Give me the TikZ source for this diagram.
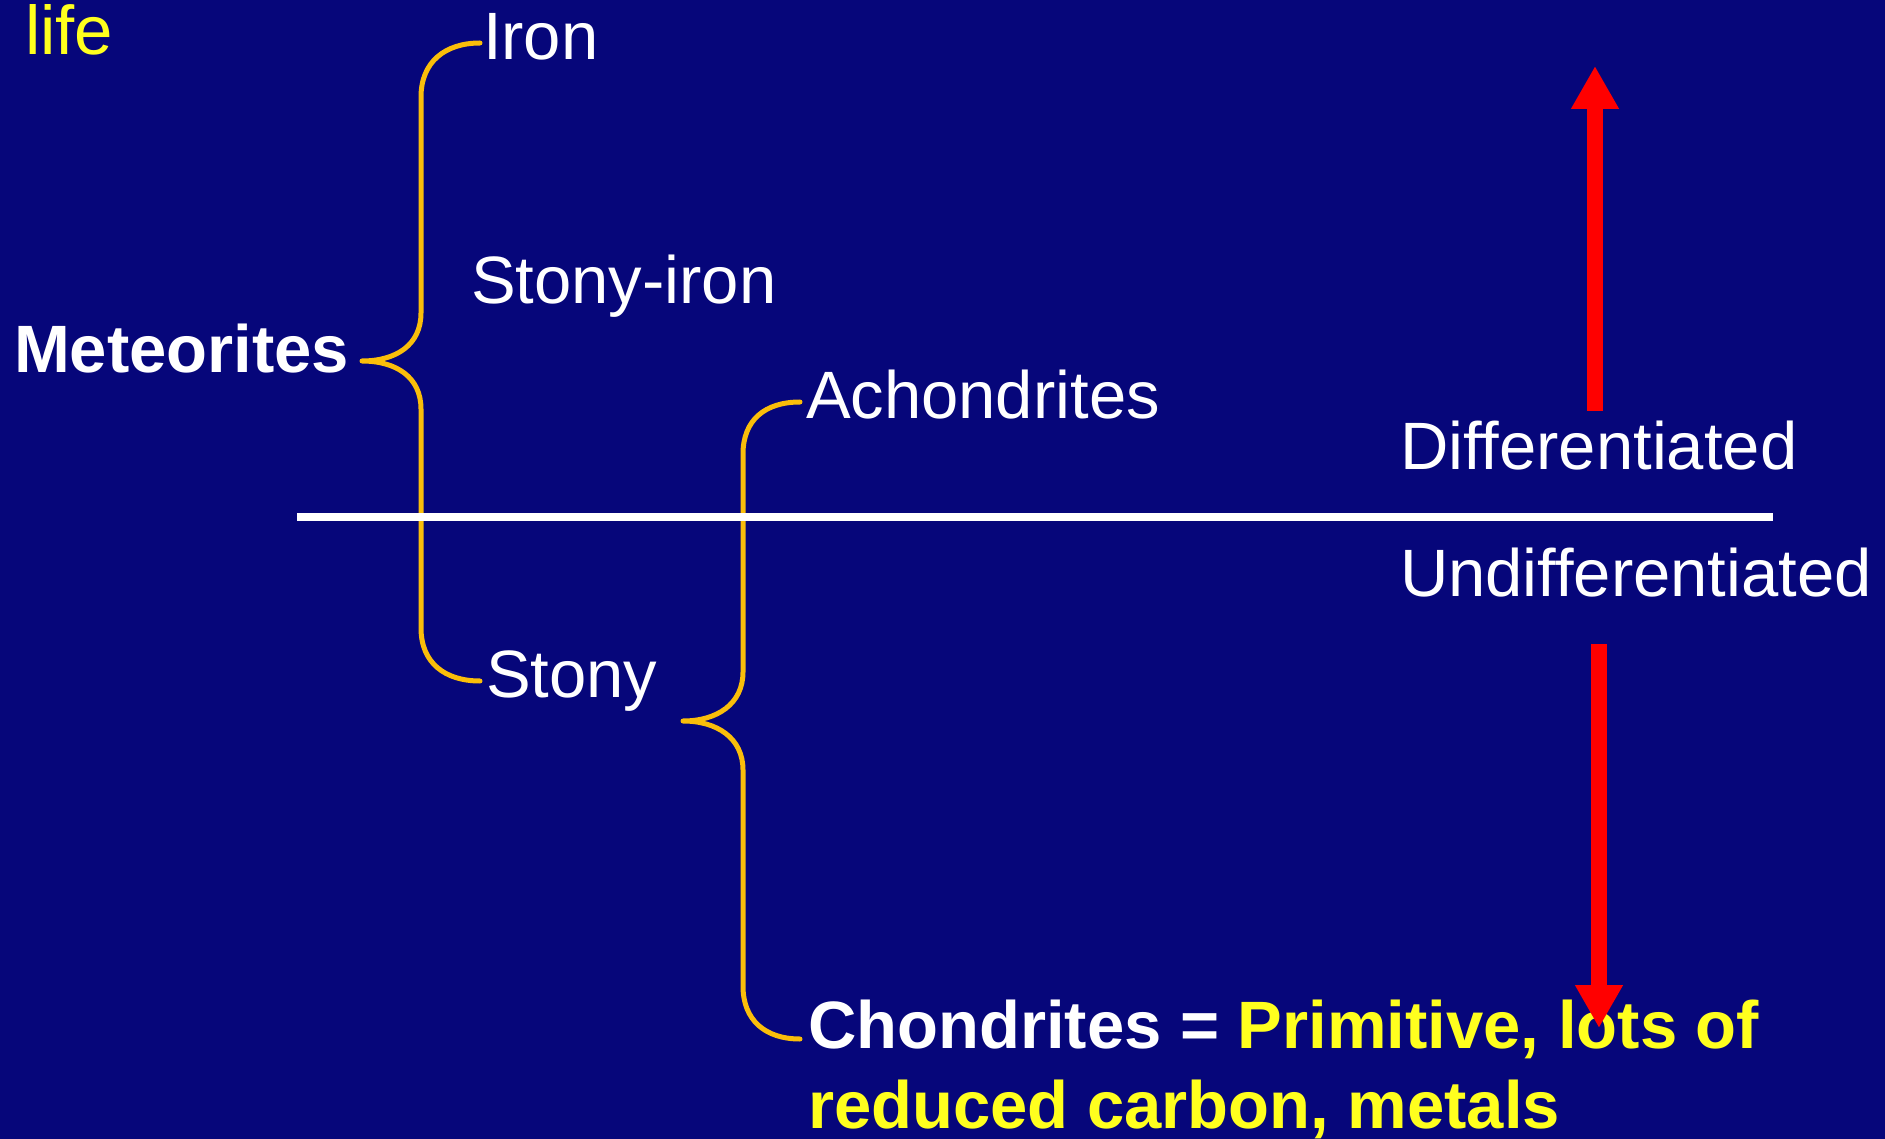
\documentclass[tikz,border=0pt]{standalone}
\usepackage{fontspec}
\setmainfont{Liberation Sans}
\usetikzlibrary{arrows.meta}
\definecolor{bgblue}{RGB}{6,6,122}
\definecolor{bracegold}{RGB}{250,190,10}
\definecolor{txtyellow}{RGB}{255,255,30}
\definecolor{arrowred}{RGB}{255,0,0}
\tikzset{
  lbl/.style={anchor=base west, inner sep=0pt, outer sep=0pt, text=white, font=\fontsize{67}{80}\selectfont},
  boldlbl/.style={lbl, font=\fontsize{67}{80}\selectfont\bfseries},
  bracepath/.style={draw=bracegold, line width=5pt, line cap=round, line join=round},
  divider/.style={draw=white, line width=8pt},
  bigarrow/.style={draw=arrowred, line width=16pt, -{Triangle[width=45pt,length=43pt]}}
}
\begin{document}
\begin{tikzpicture}[x=1pt,y=-1pt]
\fill[bgblue] (0,0) rectangle (1885,1139);
\useasboundingbox (0,0) rectangle (1885,1139);

% texts
\node[lbl, text=txtyellow, font=\fontsize{69}{80}\selectfont] (life) at (25,55) {life};
\node[lbl] (iron) at (483,60) {Iron};
\node[lbl] (stonyiron) at (471,304) {Stony-iron};
\node[boldlbl] (meteorites) at (14,373) {Meteorites};
\node[lbl] (achond) at (806,418) {Achondrites};
\node[lbl] (diff) at (1400,469) {Differentiated};
\node[lbl] (undiff) at (1400,596) {Undifferentiated};
\node[lbl] (stony) at (486,697) {Stony};
\node[boldlbl] (chond) at (808,1048) {Chondrites = \textcolor{txtyellow}{Primitive, lots of}};
\node[boldlbl, text=txtyellow] (chond2) at (808,1128) {reduced carbon, metals};

% brace coordinates
\coordinate (b1top) at (480,43);
\coordinate (b1tip) at (362,361);
\coordinate (b1bot) at (480,681);
\coordinate (b2top) at (800,402);
\coordinate (b2tip) at (683,721);
\coordinate (b2bot) at (800,1039);

% brace 1 (Meteorites)
\path[bracepath] (b1top) .. controls (445,43) and (421,62) .. (421,97)
  -- (421,313) .. controls (421,345) and (396,361) .. (b1tip)
  .. controls (396,361) and (421,377) .. (421,409)
  -- (421,628) .. controls (421,663) and (445,681) .. (b1bot);

% brace 2 (Stony)
\path[bracepath] (b2top) .. controls (765,402) and (743,420) .. (743,454)
  -- (743,672) .. controls (743,704) and (717,721) .. (b2tip)
  .. controls (717,721) and (743,738) .. (743,770)
  -- (743,986) .. controls (743,1020) and (765,1039) .. (b2bot);

% divider line
\coordinate (lineL) at (297,517);
\coordinate (lineR) at (1773,517);
\path[divider] (lineL) -- (lineR);

% arrows
\coordinate (upS) at (1595,411);
\coordinate (upE) at (1595,66);
\coordinate (dnS) at (1599,644);
\coordinate (dnE) at (1599,1028);
\path[bigarrow] (upS) -- (upE);
\path[bigarrow] (dnS) -- (dnE);
\end{tikzpicture}
\end{document}
